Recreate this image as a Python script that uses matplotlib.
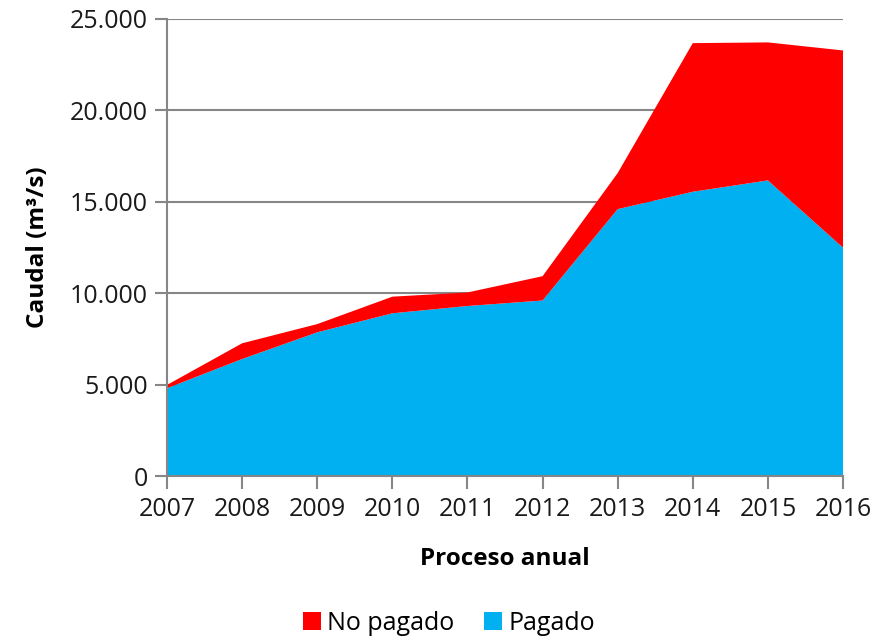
import matplotlib
matplotlib.use("Agg")
import matplotlib.pyplot as plt
from matplotlib.patches import Patch
from matplotlib.ticker import FuncFormatter

years = [2007, 2008, 2009, 2010, 2011, 2012, 2013, 2014, 2015, 2016]
pagado = [4800, 6400, 7860, 8900, 9300, 9600, 14600, 15550, 16170, 12490]
total = [4980, 7260, 8310, 9810, 10040, 10930, 16570, 23680, 23720, 23280]
no_pagado = [t - p for t, p in zip(total, pagado)]
series_labels = ["No pagado", "Pagado"]
colors = {"Pagado": "#00B0F0", "No pagado": "#FF0000"}

plt.rcParams['font.family'] = ['Open Sans', 'DejaVu Sans']

fig = plt.figure(figsize=(8.95, 6.39), dpi=100)
ax = fig.add_axes([167/895, 1 - 476/639, (843-167)/895, (476-19)/639])

ax.stackplot(years, pagado, no_pagado,
             colors=[colors["Pagado"], colors["No pagado"]], linewidth=0, zorder=2)

ax.set_xlim(years[0], years[-1])
ax.set_ylim(0, 25000)
ax.set_yticks(range(0, 25001, 5000))
ax.set_xticks(years)
ax.yaxis.set_major_formatter(FuncFormatter(lambda v, p: f"{int(v):,}".replace(",", ".")))

grid_c = "#868686"
ax.grid(axis='y', color=grid_c, linewidth=1.5, zorder=0)
ax.set_axisbelow(True)
for s in ["top", "right"]:
    ax.spines[s].set_visible(False)
for s in ["left", "bottom"]:
    ax.spines[s].set_color(grid_c)
    ax.spines[s].set_linewidth(1.5)
    ax.spines[s].set_zorder(3)
ax.tick_params(axis='both', direction='out', length=9, width=1.5, color=grid_c,
               labelsize=18, labelcolor="#1a1a1a")
ax.tick_params(axis='y', pad=5)
ax.tick_params(axis='x', pad=6)

ax.set_xlabel("Proceso anual", fontsize=17.5, fontweight='bold', labelpad=18)
ax.set_ylabel("Caudal (m³/s)", fontsize=17.5, fontweight='bold', labelpad=14)

handles = [Patch(facecolor=colors[l], edgecolor='none') for l in series_labels]
fig.legend(handles, series_labels, loc='center', bbox_to_anchor=(449/895, 1 - 623/639),
           ncol=2, frameon=False, fontsize=18, handlelength=0.7, handleheight=0.7,
           handletextpad=0.25, columnspacing=1.2)

fig.savefig("out.png", dpi=100)
